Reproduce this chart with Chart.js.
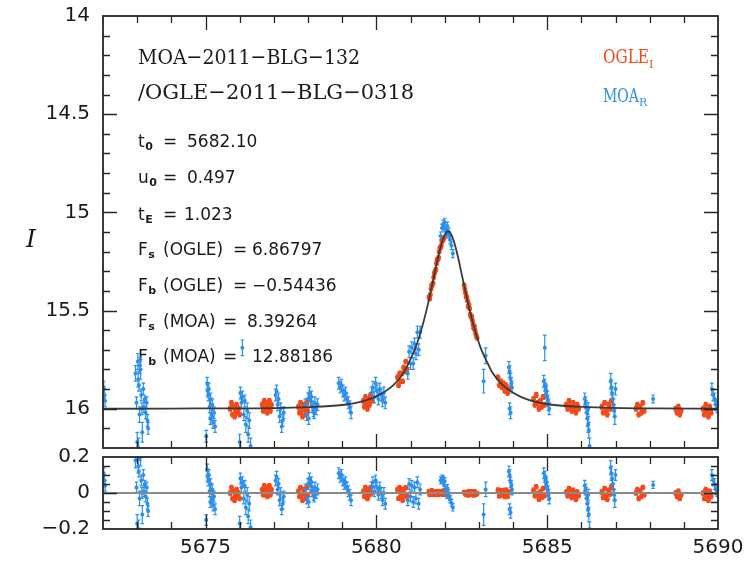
<!DOCTYPE html>
<html>
<head>
<meta charset="utf-8">
<script src="https://cdn.jsdelivr.net/npm/chart.js@4/dist/chart.umd.min.js"></script>
<style>
  body { margin: 0; background: #fff; }
  #wrap { position: relative; width: 748px; height: 562px; overflow: hidden; }
  canvas { position: absolute; left: 0; }
  #lightCurve { top: 0; }
  #residuals { top: 430px; }
</style>
</head>
<body>
<div id="wrap">
  <canvas id="residuals" width="748" height="132"></canvas>
  <canvas id="lightCurve" width="748" height="470"></canvas>
</div>
<script>
// axes
const xLabelTicks = [5675, 5680, 5685, 5690];
const magTicks = [14, 14.5, 15, 15.5, 16];
const resTicks = [-0.2, 0, 0.2];

// best-fit model curve
const modelT = [5672, 5674, 5676, 5677, 5678, 5679, 5679.5, 5680, 5680.5, 5680.8, 5681, 5681.15, 5681.35, 5681.5,
  5681.65, 5681.75, 5681.85, 5681.95, 5682.05, 5682.1, 5682.15, 5682.25, 5682.35, 5682.45, 5682.55, 5682.7,
  5682.85, 5683.05, 5683.2, 5683.4, 5683.7, 5684.2, 5684.7, 5685.2, 5686.2, 5687.2, 5688.2, 5690];
const modelI = [16.0, 15.999, 15.998, 15.997, 15.992, 15.981, 15.967, 15.937, 15.88, 15.817, 15.747, 15.689, 15.578, 15.475,
  15.357, 15.275, 15.198, 15.137, 15.102, 15.097, 15.102, 15.137, 15.198, 15.275, 15.357, 15.475,
  15.578, 15.689, 15.747, 15.817, 15.88, 15.937, 15.967, 15.981, 15.992, 15.997, 15.998, 16.0];

// OGLE I-band
const ogleT = [
  5675.72, 5675.76, 5675.79, 5675.82, 5675.85, 5675.88, 5675.91, 5675.94, 5675.97, 5676.00,
  5676.66, 5676.69, 5676.72, 5676.75, 5676.78, 5676.81, 5676.84, 5676.87, 5676.90, 5676.93,
  5677.72, 5677.75, 5677.78, 5677.81, 5677.84, 5677.87, 5677.90, 5677.93, 5677.96, 5677.99,
  5679.62, 5679.65, 5679.68, 5679.71, 5679.74, 5679.77, 5679.80, 5679.83, 5679.86,
  5680.62, 5680.65, 5680.68, 5680.71, 5680.74, 5680.77, 5680.80, 5680.83, 5680.86, 5680.89,
  5681.54, 5681.58, 5681.62, 5681.66, 5681.70, 5681.74, 5681.78, 5681.82, 5681.86, 5681.90, 5681.94, 5681.98,
  5681.56, 5681.60, 5681.64, 5681.68, 5681.72, 5681.76, 5681.80, 5681.84, 5681.88, 5681.92, 5681.96,
  5682.57, 5682.61, 5682.65, 5682.69, 5682.73, 5682.77, 5682.81, 5682.85, 5682.89, 5682.93,
  5682.59, 5682.63, 5682.67, 5682.71, 5682.75, 5682.79, 5682.83, 5682.87, 5682.91, 5682.95,
  5683.56, 5683.60, 5683.64, 5683.68, 5683.72, 5683.76, 5683.80, 5683.84, 5683.88,
  5684.60, 5684.64, 5684.68, 5684.72, 5684.76, 5684.80, 5684.84, 5684.88, 5684.92,
  5685.56, 5685.60, 5685.64, 5685.68, 5685.72, 5685.76, 5685.80, 5685.84, 5685.88, 5685.92,
  5686.60, 5686.64, 5686.68, 5686.72, 5686.76, 5686.80, 5686.84, 5686.88,
  5687.60, 5687.64, 5687.68, 5687.72, 5687.76, 5687.80, 5687.84,
  5688.76, 5688.80, 5688.84, 5688.88, 5688.92,
  5689.56, 5689.60, 5689.64, 5689.68, 5689.72, 5689.76, 5689.80];
const ogleI = [
  16.00, 15.97, 16.03, 15.99, 16.04, 16.01, 15.98, 16.02, 16.00, 16.03,
  15.98, 16.01, 15.96, 16.00, 15.97, 16.02, 15.99, 15.96, 16.01, 15.98,
  15.99, 16.02, 15.97, 16.01, 16.04, 15.98, 16.00, 16.03, 15.97, 16.01,
  15.96, 15.99, 15.94, 15.97, 16.00, 15.95, 15.98, 15.93, 15.96,
  15.84, 15.88, 15.82, 15.86, 15.82, 15.86, 15.79, 15.81, 15.76, 15.80,
  15.43, 15.42, 15.37, 15.36, 15.31, 15.29, 15.24, 15.23, 15.18, 15.17, 15.13, 15.13,
  15.44, 15.39, 15.37, 15.33, 15.30, 15.26, 15.24, 15.20, 15.18, 15.15, 15.14,
  15.37, 15.41, 15.43, 15.48, 15.49, 15.53, 15.55, 15.59, 15.60, 15.63,
  15.39, 15.43, 15.45, 15.47, 15.52, 15.53, 15.57, 15.58, 15.62, 15.64,
  15.84, 15.88, 15.86, 15.89, 15.87, 15.91, 15.88, 15.92, 15.90,
  15.95, 15.98, 15.93, 15.97, 16.00, 15.96, 15.99, 15.94, 15.98,
  15.98, 16.00, 15.96, 15.99, 16.01, 15.97, 15.99, 16.02, 15.98, 16.00,
  15.99, 16.02, 15.97, 16.01, 16.03, 15.98, 16.00, 15.96,
  16.00, 15.98, 16.03, 15.99, 16.02, 15.97, 16.01,
  16.00, 16.02, 15.99, 16.03, 16.01,
  16.00, 16.03, 15.98, 16.01, 16.04, 15.99, 16.02];
const ogleErr = [
  0.012, 0.012, 0.012, 0.012, 0.012, 0.012, 0.012, 0.012, 0.012, 0.012,
  0.012, 0.012, 0.012, 0.012, 0.012, 0.012, 0.012, 0.012, 0.012, 0.012,
  0.012, 0.012, 0.012, 0.012, 0.012, 0.012, 0.012, 0.012, 0.012, 0.012,
  0.012, 0.012, 0.012, 0.012, 0.012, 0.012, 0.012, 0.012, 0.012,
  0.011, 0.011, 0.011, 0.011, 0.011, 0.011, 0.011, 0.011, 0.011, 0.011,
  0.009, 0.009, 0.009, 0.009, 0.009, 0.009, 0.009, 0.009, 0.009, 0.009, 0.009, 0.009,
  0.009, 0.009, 0.009, 0.009, 0.009, 0.009, 0.009, 0.009, 0.009, 0.009, 0.009,
  0.009, 0.009, 0.009, 0.009, 0.009, 0.009, 0.009, 0.009, 0.009, 0.009,
  0.009, 0.009, 0.009, 0.009, 0.009, 0.009, 0.009, 0.009, 0.009, 0.009,
  0.011, 0.011, 0.011, 0.011, 0.011, 0.011, 0.011, 0.011, 0.011,
  0.012, 0.012, 0.012, 0.012, 0.012, 0.012, 0.012, 0.012, 0.012,
  0.012, 0.012, 0.012, 0.012, 0.012, 0.012, 0.012, 0.012, 0.012, 0.012,
  0.012, 0.012, 0.012, 0.012, 0.012, 0.012, 0.012, 0.012,
  0.012, 0.012, 0.012, 0.012, 0.012, 0.012, 0.012,
  0.012, 0.012, 0.012, 0.012, 0.012,
  0.012, 0.012, 0.012, 0.012, 0.012, 0.012, 0.012];
const ogleRes = [
  0.00, 0.03, -0.03, 0.01, -0.04, -0.01, 0.02, -0.02, 0.00, -0.03,
  0.02, -0.01, 0.04, 0.00, 0.03, -0.02, 0.01, 0.04, -0.01, 0.02,
  0.01, -0.02, 0.03, -0.01, -0.04, 0.02, 0.00, -0.03, 0.03, -0.01,
  0.01, -0.02, 0.03, 0.00, -0.03, 0.02, -0.01, 0.03, 0.00,
  0.02, -0.03, 0.03, -0.02, 0.01, -0.04, 0.02, -0.01, 0.03, -0.02,
  0.01, -0.01, 0.015, -0.01, 0.006, -0.01, 0.01, -0.01, 0.01, -0.006, 0.01, -0.01,
  -0.01, 0.007, -0.005, 0.003, 0.0, 0.008, -0.005, 0.005, -0.004, 0.002, -0.008,
  0.005, -0.005, 0.005, -0.012, 0.007, -0.005, 0.002, -0.012, 0.0, -0.004,
  0.0, -0.01, 0.0, 0.01, -0.009, 0.008, -0.005, 0.01, -0.01, -0.003,
  0.017, -0.016, 0.012, -0.012, 0.015, -0.02, 0.016, -0.02, 0.006,
  0.015, -0.015, 0.035, -0.005, -0.035, 0.005, -0.025, 0.025, -0.015,
  0.005, -0.015, 0.025, -0.005, -0.025, 0.015, -0.005, -0.035, 0.005, -0.015,
  0.005, -0.025, 0.025, -0.015, -0.035, 0.015, -0.005, 0.035,
  0.0, 0.02, -0.03, 0.01, -0.02, 0.03, -0.01,
  0.0, -0.02, 0.01, -0.03, -0.01,
  0.0, -0.03, 0.02, -0.01, -0.04, 0.01, -0.02];

// MOA R-band
const moaT = [
  5672.02, 5672.04, 5672.06,
  5672.95, 5672.98, 5673.00, 5673.02, 5673.05, 5673.07, 5673.10, 5673.12, 5673.15, 5673.18,
  5673.20, 5673.22, 5673.25, 5673.28, 5673.30, 5673.32, 5673.03, 5673.08, 5673.14, 5673.04,
  5675.02, 5675.05, 5675.08, 5675.10, 5675.12, 5675.15, 5675.18, 5675.20, 5675.22, 5675.25, 5675.28, 5675.06, 5675.14,
  5676.00, 5676.02, 5676.05, 5676.08, 5676.08, 5676.12, 5676.15, 5676.18, 5676.22, 5676.25, 5676.28, 5676.32,
  5677.05, 5677.08, 5677.11, 5677.14, 5677.17, 5677.20, 5677.23, 5677.26, 5677.29,
  5677.92, 5677.96, 5678.00, 5678.02, 5678.04, 5678.08, 5678.10, 5678.12, 5678.16, 5678.18, 5678.20, 5678.24, 5678.28,
  5678.90, 5678.94, 5678.98, 5679.02, 5679.06, 5679.10, 5679.14, 5679.18, 5679.22, 5679.26,
  5679.86, 5679.90, 5679.94, 5679.98, 5680.02, 5680.06, 5680.10, 5680.14, 5680.18, 5680.22, 5680.26,
  5680.92, 5680.96, 5681.00, 5681.04, 5681.08, 5681.12, 5681.16, 5681.20, 5681.24, 5681.28,
  5681.88, 5681.92, 5681.96, 5681.98, 5682.00, 5682.04, 5682.06, 5682.08, 5682.12, 5682.14, 5682.16, 5682.20, 5682.24,
  5683.14, 5683.20,
  5683.88, 5683.90, 5683.90, 5683.93, 5683.93, 5683.95, 5683.97,
  5684.90, 5684.93, 5684.93, 5684.95, 5684.97, 5684.98, 5685.00, 5685.02, 5685.04, 5685.06,
  5686.10, 5686.12, 5686.14, 5686.16, 5686.18, 5686.20, 5686.20, 5686.22, 5686.24,
  5686.86, 5686.88, 5686.90, 5686.92, 5686.94, 5686.96, 5686.98, 5687.00,
  5688.10,
  5689.82, 5689.86, 5689.90, 5689.94, 5689.98];
const moaI = [
  15.89, 15.93, 15.96,
  15.82, 15.97, 16.17, 15.76, 15.88, 16.03, 15.80, 15.93, 16.12, 15.90,
  15.99, 15.95, 16.02, 15.97, 16.06, 16.10, 15.85, 15.78, 16.00, 16.20,
  16.14, 15.87, 15.93, 15.90, 15.99, 15.95, 16.03, 15.98, 16.07, 16.02, 16.09, 15.91, 16.05,
  16.17, 15.92, 15.97, 15.94, 15.69, 16.03, 15.96, 16.08, 16.01, 16.13, 16.06, 16.19,
  15.93, 15.91, 15.98, 15.95, 16.04, 16.00, 16.09, 16.06, 16.02,
  15.98, 16.03, 15.95, 16.05, 15.92, 15.96, 15.94, 15.99, 16.01, 16.02, 15.97, 16.00, 15.98,
  15.87, 15.89, 15.88, 15.91, 15.93, 15.92, 15.95, 15.97, 15.99, 16.02,
  15.92, 15.89, 15.94, 15.87, 15.91, 15.95, 15.90, 15.93, 15.96, 15.92, 15.97,
  15.82, 15.71, 15.77, 15.69, 15.77, 15.67, 15.72, 15.61, 15.70, 15.61,
  15.12, 15.08, 15.06, 15.08, 15.05, 15.09, 15.11, 15.07, 15.10, 15.12, 15.14, 15.17, 15.21,
  15.86, 15.73,
  15.79, 15.81, 16.00, 15.85, 16.02, 15.87, 15.89,
  15.86, 15.88, 15.69, 15.90, 15.92, 15.91, 15.94, 15.96, 15.98, 16.00,
  15.95, 15.97, 15.99, 16.02, 16.05, 16.08, 16.00, 16.11, 16.19,
  15.86, 15.89, 15.92, 15.95, 15.98, 16.01, 16.04, 15.90,
  15.95,
  15.90, 15.93, 15.95, 15.98, 15.99];
const moaErr = [
  0.03, 0.03, 0.03,
  0.04, 0.03, 0.05, 0.04, 0.03, 0.04, 0.05, 0.03, 0.05, 0.03,
  0.03, 0.02, 0.03, 0.03, 0.03, 0.03, 0.04, 0.04, 0.03, 0.05,
  0.03, 0.03, 0.03, 0.03, 0.03, 0.03, 0.03, 0.03, 0.03, 0.03, 0.03, 0.03, 0.03,
  0.04, 0.03, 0.03, 0.03, 0.04, 0.03, 0.03, 0.04, 0.04, 0.04, 0.04, 0.04,
  0.03, 0.03, 0.03, 0.03, 0.03, 0.03, 0.03, 0.03, 0.03,
  0.03, 0.03, 0.03, 0.03, 0.03, 0.03, 0.03, 0.03, 0.03, 0.03, 0.03, 0.03, 0.03,
  0.03, 0.03, 0.03, 0.03, 0.03, 0.03, 0.03, 0.03, 0.03, 0.03,
  0.03, 0.03, 0.03, 0.03, 0.03, 0.03, 0.03, 0.03, 0.03, 0.03, 0.03,
  0.03, 0.03, 0.03, 0.03, 0.03, 0.03, 0.03, 0.03, 0.03, 0.03,
  0.02, 0.02, 0.02, 0.02, 0.02, 0.02, 0.02, 0.02, 0.02, 0.02, 0.02, 0.02, 0.02,
  0.06, 0.04,
  0.03, 0.03, 0.03, 0.03, 0.03, 0.03, 0.03,
  0.03, 0.03, 0.065, 0.03, 0.03, 0.03, 0.03, 0.03, 0.03, 0.03,
  0.03, 0.03, 0.03, 0.03, 0.04, 0.04, 0.03, 0.04, 0.04,
  0.04, 0.04, 0.03, 0.03, 0.03, 0.03, 0.04, 0.03,
  0.02,
  0.03, 0.03, 0.03, 0.03, 0.03];
const moaRes = [
  0.11, 0.07, 0.04,
  0.18, 0.03, -0.17, 0.22, 0.12, -0.03, 0.20, 0.07, -0.12, 0.10,
  0.01, 0.05, -0.02, 0.03, -0.06, -0.10, 0.15, 0.22, 0.00, -0.20,
  -0.15, 0.13, 0.07, 0.10, 0.01, 0.05, -0.03, 0.02, -0.07, -0.02, -0.09, 0.09, -0.05,
  -0.17, 0.08, 0.03, 0.06, 0.31, -0.03, 0.04, -0.08, -0.01, -0.13, -0.06, -0.19,
  0.07, 0.09, 0.02, 0.05, -0.04, 0.00, -0.09, -0.06, -0.02,
  0.02, -0.03, 0.05, -0.05, 0.08, 0.04, 0.06, 0.01, -0.01, -0.02, 0.03, 0.00, 0.02,
  0.11, 0.09, 0.10, 0.07, 0.05, 0.06, 0.03, 0.01, -0.01, -0.04,
  0.03, 0.06, 0.01, 0.07, 0.03, -0.01, 0.03, 0.00, -0.04, 0.00, -0.06,
  -0.04, 0.05, -0.02, 0.04, -0.05, 0.03, -0.03, 0.06, -0.06, 0.02,
  0.07, 0.08, 0.075, 0.045, 0.065, 0.015, -0.01, 0.027, -0.002, -0.02, -0.035, -0.055, -0.08,
  -0.12, 0.02,
  0.12, 0.10, -0.09, 0.06, -0.11, 0.04, 0.02,
  0.11, 0.09, 0.28, 0.07, 0.05, 0.06, 0.03, 0.01, -0.01, -0.03,
  0.04, 0.02, 0.00, -0.03, -0.06, -0.09, -0.01, -0.12, -0.20,
  0.14, 0.11, 0.08, 0.05, 0.02, -0.01, -0.04, 0.10,
  0.045,
  0.10, 0.07, 0.05, 0.02, 0.01];

const zeroT = [5672, 5690];
const zeroR = [0, 0];

const eventName = ['MOA−2011−BLG−132', '/OGLE−2011−BLG−0318'];
const paramRows = [
  ['t', '0', '', '5682.10'],
  ['u', '0', '', '0.497'],
  ['t', 'E', '', '1.023'],
  ['F', 's', '(OGLE)', '6.86797'],
  ['F', 'b', '(OGLE)', '−0.54436'],
  ['F', 's', '(MOA)', '8.39264'],
  ['F', 'b', '(MOA)', '12.88186'],
];

const OGLE_COLOR = '#f44a1a';
const MOA_COLOR = '#2b8fee';
const INK = '#1a1a1a';

function toPoints(xs, ys) {
  return xs.map((x, i) => ({ x: x, y: ys[i] }));
}

function steps(from, to, step) {
  const out = [];
  for (let v = from; v <= to + step / 2; v += step) out.push(Math.round(v * 1000) / 1000);
  return out;
}

// the axes draw only labels; drop the extra room chart.js keeps for them
function fixWidth(s) {
  s.width = 103;
  s.paddingTop = 0;
  s.paddingBottom = 0;
}

// frame with inward ticks on all four sides
function panelFrame(xMajor, xMinor, yMajor, yMinor) {
  return {
    id: 'panelFrame',
    afterDatasetsDraw(chart) {
      const { ctx, chartArea: a, scales } = chart;
      const x = scales.x, y = scales.y;
      ctx.save();
      ctx.strokeStyle = '#262626';
      ctx.lineWidth = 1.3;
      ctx.beginPath();
      xMinor.forEach(v => {
        const p = Math.round(x.getPixelForValue(v)) + 0.5;
        const len = xMajor.includes(v) ? 14 : 7;
        ctx.moveTo(p, a.bottom); ctx.lineTo(p, a.bottom - len);
        ctx.moveTo(p, a.top); ctx.lineTo(p, a.top + len);
      });
      yMinor.forEach(v => {
        const p = Math.round(y.getPixelForValue(v)) + 0.5;
        const len = yMajor.includes(v) ? 14 : 7;
        ctx.moveTo(a.left, p); ctx.lineTo(a.left + len, p);
        ctx.moveTo(a.right, p); ctx.lineTo(a.right - len, p);
      });
      ctx.stroke();
      ctx.lineWidth = 1.8;
      ctx.strokeRect(a.left, a.top, a.right - a.left, a.bottom - a.top);
      ctx.restore();
    }
  };
}

function errorBars(sets) {
  return {
    id: 'errorBars',
    beforeDatasetsDraw(chart) {
      const { ctx, chartArea: a, scales: { x, y } } = chart;
      ctx.save();
      ctx.beginPath();
      ctx.rect(a.left, a.top, a.right - a.left, a.bottom - a.top);
      ctx.clip();
      sets.forEach(s => {
        ctx.strokeStyle = s.color;
        ctx.lineWidth = 1.2;
        ctx.beginPath();
        s.t.forEach((t, i) => {
          const px = x.getPixelForValue(t);
          const lo = y.getPixelForValue(s.v[i] - s.e[i]);
          const hi = y.getPixelForValue(s.v[i] + s.e[i]);
          ctx.moveTo(px, lo); ctx.lineTo(px, hi);
          ctx.moveTo(px - 1.8, lo); ctx.lineTo(px + 1.8, lo);
          ctx.moveTo(px - 1.8, hi); ctx.lineTo(px + 1.8, hi);
        });
        ctx.stroke();
      });
      ctx.restore();
    }
  };
}

// event name, fit parameters, legend and the y title
const annotations = {
  id: 'annotations',
  beforeDatasetsDraw(chart) {
    const ctx = chart.ctx;
    ctx.save();
    ctx.textBaseline = 'alphabetic';
    ctx.textAlign = 'left';
    ctx.fillStyle = INK;

    ctx.font = '21px "DejaVu Serif"';
    ctx.fillText(eventName[0], 138, 64, 222);
    ctx.fillText(eventName[1], 138, 99, 290);

    const baseY = [147, 183, 220, 255, 291, 327, 362];
    const eqX = [163, 163, 163, 233, 233, 223, 223];
    const valX = [187, 187, 184, 252, 252, 247, 252];
    paramRows.forEach((row, i) => {
      ctx.font = '17px "DejaVu Sans"';
      ctx.fillText(row[0], 138, baseY[i]);
      const w = ctx.measureText(row[0]).width;
      if (row[2]) ctx.fillText(row[2], 163, baseY[i]);
      ctx.fillText('=', eqX[i], baseY[i]);
      ctx.fillText(row[3], valX[i], baseY[i]);
      ctx.font = 'bold 11px "DejaVu Sans"';
      ctx.fillText(row[1], 138 + w + 0.5, baseY[i] + 3);
    });

    ctx.font = '18px "DejaVu Serif"';
    ctx.fillStyle = OGLE_COLOR;
    ctx.fillText('OGLE', 603, 63, 46);
    ctx.font = '11px "DejaVu Serif"';
    ctx.fillText('I', 649, 68);
    ctx.font = '18px "DejaVu Serif"';
    ctx.fillStyle = MOA_COLOR;
    ctx.fillText('MOA', 603, 102, 36);
    ctx.font = '11px "DejaVu Serif"';
    ctx.fillText('R', 639, 106);

    ctx.fillStyle = INK;
    ctx.font = 'italic 25px "DejaVu Serif"';
    ctx.textAlign = 'center';
    ctx.fillText('I', 31, 247);
    ctx.restore();
  }
};

const tickFont = { family: 'DejaVu Sans', size: 20 };
const xMinorTicks = steps(5673, 5689, 1);
const xMajorTicks = [5675, 5680, 5685];

new Chart(document.getElementById('lightCurve'), {
  type: 'scatter',
  data: {
    datasets: [{
      type: 'line',
      data: toPoints(modelT, modelI),
      borderColor: '#3a3a3a',
      borderWidth: 1.8,
      pointRadius: 0,
      cubicInterpolationMode: 'monotone',
      fill: false,
    }, {
      data: toPoints(moaT, moaI),
      backgroundColor: MOA_COLOR,
      borderWidth: 0,
      pointRadius: 2,
    }, {
      data: toPoints(ogleT, ogleI),
      backgroundColor: OGLE_COLOR,
      borderWidth: 0,
      pointRadius: 2.5,
    }]
  },
  options: {
    responsive: false,
    animation: false,
    layout: { padding: { left: 0, right: 30, top: 16, bottom: 22 } },
    plugins: { legend: { display: false }, tooltip: { enabled: false } },
    scales: {
      x: { type: 'linear', min: 5672, max: 5690, display: false },
      y: {
        type: 'linear',
        reverse: true,
        min: 14,
        max: 16.2,
        afterBuildTicks: s => { s.ticks = magTicks.map(v => ({ value: v })); },
        afterFit: fixWidth,
        grid: { display: false, drawTicks: false },
        border: { display: false },
        ticks: { padding: 13, color: INK, font: tickFont, callback: v => String(v) }
      }
    }
  },
  plugins: [
    annotations,
    errorBars([
      { t: ogleT, v: ogleI, e: ogleErr, color: OGLE_COLOR },
      { t: moaT, v: moaI, e: moaErr, color: MOA_COLOR },
    ]),
    panelFrame(xMajorTicks, xMinorTicks, [14.5, 15, 15.5, 16], steps(14.1, 16.1, 0.1)),
  ]
});

new Chart(document.getElementById('residuals'), {
  type: 'scatter',
  data: {
    datasets: [{
      type: 'line',
      data: toPoints(zeroT, zeroR),
      borderColor: '#8a8a8a',
      borderWidth: 2,
      pointRadius: 0,
    }, {
      data: toPoints(moaT, moaRes),
      backgroundColor: MOA_COLOR,
      borderWidth: 0,
      pointRadius: 2,
    }, {
      data: toPoints(ogleT, ogleRes),
      backgroundColor: OGLE_COLOR,
      borderWidth: 0,
      pointRadius: 2.5,
    }]
  },
  options: {
    responsive: false,
    animation: false,
    layout: { padding: { left: 0, right: 30, top: 27, bottom: 0 } },
    plugins: { legend: { display: false }, tooltip: { enabled: false } },
    scales: {
      x: {
        type: 'linear',
        min: 5672,
        max: 5690,
        afterBuildTicks: s => { s.ticks = xLabelTicks.map(v => ({ value: v })); },
        afterFit: s => { s.height = 33; s.paddingLeft = 0; s.paddingRight = 0; },
        grid: { display: false, drawTicks: false },
        border: { display: false },
        ticks: { padding: 7, color: INK, font: tickFont, maxRotation: 0, callback: v => String(v) }
      },
      y: {
        type: 'linear',
        min: -0.2,
        max: 0.2,
        afterBuildTicks: s => { s.ticks = resTicks.map(v => ({ value: v })); },
        afterFit: fixWidth,
        grid: { display: false, drawTicks: false },
        border: { display: false },
        ticks: {
          padding: 13, color: INK, font: tickFont,
          callback: v => v === 0 ? '0' : (v < 0 ? '−' : '') + Math.abs(v).toFixed(1)
        }
      }
    }
  },
  plugins: [
    errorBars([
      { t: ogleT, v: ogleRes, e: ogleErr, color: OGLE_COLOR },
      { t: moaT, v: moaRes, e: moaErr, color: MOA_COLOR },
    ]),
    panelFrame(xMajorTicks, xMinorTicks, [0], [-0.15, -0.1, -0.05, 0, 0.05, 0.1, 0.15]),
  ]
});
</script>
</body>
</html>
